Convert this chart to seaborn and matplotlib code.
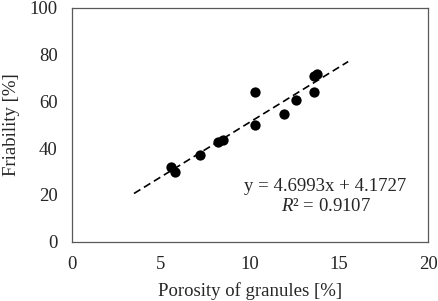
import numpy as np
import pandas as pd
import seaborn as sns
import matplotlib.pyplot as plt

# porosity [%] vs friability [%]
porosity = [5.6, 5.8, 7.2, 8.2, 8.5, 10.3, 10.3, 11.9, 12.6, 13.6, 13.6, 13.75]
friability = [32.1, 29.6, 37.0, 42.6, 43.3, 64.0, 49.9, 54.7, 60.4, 64.0, 71.0, 71.7]

slope = 4.6993
intercept = 4.1727
r2 = 0.9107
fit_x = [3.5, 15.5]

x_ticks = [0, 5, 10, 15, 20]
y_ticks = [0, 20, 40, 60, 80, 100]

sns.set_style('white')
plt.rcParams['font.family'] = ['Liberation Serif', 'DejaVu Serif']
plt.rcParams['mathtext.fontset'] = 'custom'
plt.rcParams['mathtext.rm'] = 'Liberation Serif'
plt.rcParams['mathtext.it'] = 'Liberation Serif:italic'

df = pd.DataFrame({'porosity': porosity, 'friability': friability})
fit = pd.DataFrame({'x': fit_x, 'y': [slope * v + intercept for v in fit_x]})

fig = plt.figure(figsize=(4.39, 3.01), dpi=100)
ax = fig.add_axes([0.163, 0.197, 0.813, 0.777])

sns.lineplot(data=fit, x='x', y='y', ax=ax, color='black', linestyle=(0, (4.5, 2.5)), linewidth=1.2)
sns.scatterplot(data=df, x='porosity', y='friability', ax=ax, color='black', s=55, edgecolor='black', linewidth=0, zorder=3)

fs = 13.5
ax.set_xlim(0, 20)
ax.set_ylim(0, 100)
ax.set_xticks(x_ticks)
ax.set_yticks(y_ticks)
ax.set_xlabel('Porosity of granules [%]', fontsize=fs, labelpad=7)
ax.set_ylabel('Friability [%]', fontsize=fs, labelpad=7)
ax.tick_params(direction='in', length=3, width=0.8, color='#595959', labelsize=fs, pad=10)

for s in ax.spines.values():
    s.set_color('#595959')
    s.set_linewidth(0.9)

ax.text(14.2, 23.6, f'y = {slope}x + {intercept}', ha='center', va='center', fontsize=fs)
ax.text(14.25, 15.0, f'$R$² = {r2}', ha='center', va='center', fontsize=fs)

fig.savefig('out.png', dpi=100)
